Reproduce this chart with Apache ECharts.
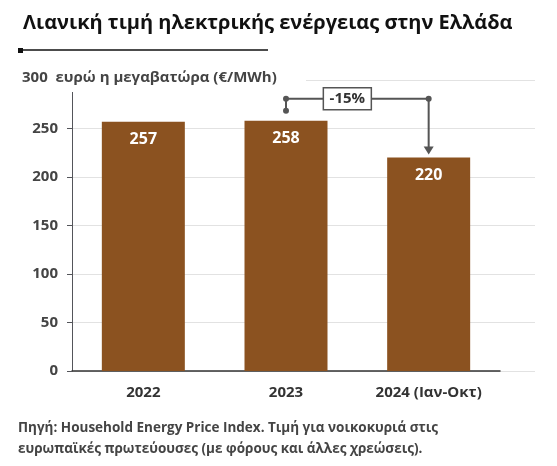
<!DOCTYPE html>
<html><head><meta charset="utf-8">
<script src="https://cdn.jsdelivr.net/npm/echarts@6/dist/echarts.min.js"></script>
<style>html,body{margin:0;background:#fff}#c{width:557px;height:466px}</style>
</head><body><div id="c"></div>
<script>
var categories = ['2022', '2023', '2024 (Ιαν-Οκτ)'];
var prices = [257, 258, 220];
var yTicks = [0, 50, 100, 150, 200, 250, 300];
var changeLabel = '-15%';

var chart = echarts.init(document.getElementById('c'));
var font = 'Open Sans';
chart.setOption({
    animation: false,
    textStyle: {fontFamily: font},
    title: {
        text: 'Λιανική τιμή ηλεκτρικής ενέργειας στην Ελλάδα',
        left: 18, top: 8,
        textStyle: {fontSize: 20, fontWeight: 'bold', color: '#111', fontFamily: font}
    },
    grid: [
        {left: 72, right: 57, top: 80, bottom: 95},
        {left: 72, right: 22, top: 80, bottom: 95}
    ],
    xAxis: [
        {gridIndex: 0, type: 'category', data: categories,
         axisLine: {lineStyle: {color: '#333', width: 1.5}}, axisTick: {show: false},
         axisLabel: {color: '#333', fontSize: 15, fontWeight: 'bold', margin: 14}},
        {gridIndex: 1, type: 'value', show: false}
    ],
    yAxis: [
        {gridIndex: 0, type: 'value', min: 0, max: 300, interval: 50,
         splitLine: {show: false},
         axisLabel: {show: false}},
        {gridIndex: 1, type: 'value', min: 0, max: 300, interval: 50,
         splitLine: {lineStyle: {color: '#e2e2e2'}},
         axisLabel: {color: '#444', fontSize: 15, fontWeight: 'bold', margin: 14,
            formatter: function (v) { return (yTicks.indexOf(v) >= 0 && v !== 300) ? String(v) : ''; }}}
    ],
    series: [{
        type: 'bar', xAxisIndex: 0, yAxisIndex: 0, data: prices, barWidth: 83,
        itemStyle: {color: '#8b5220'},
        label: {show: true, position: 'insideTop', distance: 10, color: '#fff',
                fontSize: 16, fontWeight: 'bold'}
    }]
});

var p2 = chart.convertToPixel({xAxisIndex: 0, yAxisIndex: 0}, [1, prices[1]]);
var p3 = chart.convertToPixel({xAxisIndex: 0, yAxisIndex: 0}, [2, prices[2]]);
var yTop = p2[1] - 22;
var midX = (p2[0] + p3[0]) / 2 - 10;
var lc = '#555';
chart.setOption({
    graphic: [
        {type: 'line', shape: {x1: 18, y1: 50, x2: 268, y2: 50}, style: {stroke: '#111', lineWidth: 1.5}},
        {type: 'rect', shape: {x: 18, y: 48, width: 5, height: 5}, style: {fill: '#111'}},
        {type: 'rect', z: 100, shape: {x: 66, y: 70, width: 240, height: 22}, style: {fill: '#fff'}},
        {type: 'text', z: 101, left: 22, top: 70, style: {text: '300  ευρώ η μεγαβατώρα (€/MWh)', fill: '#444',
            font: 'bold 15px "Open Sans"'}},
        {type: 'polyline', shape: {points: [[p2[0], yTop + 12], [p2[0], yTop], [p3[0], yTop], [p3[0], p3[1] - 10]]},
            style: {stroke: lc, lineWidth: 2, fill: null}},
        {type: 'polygon', shape: {points: [[p3[0] - 5, p3[1] - 11], [p3[0] + 5, p3[1] - 11], [p3[0], p3[1] - 3]]},
            style: {fill: lc}},
        {type: 'circle', shape: {cx: p2[0], cy: yTop, r: 3}, style: {fill: lc}},
        {type: 'circle', shape: {cx: p2[0], cy: yTop + 12, r: 3}, style: {fill: lc}},
        {type: 'circle', shape: {cx: p3[0], cy: yTop, r: 3}, style: {fill: lc}},
        {type: 'rect', shape: {x: midX - 24, y: yTop - 11, width: 48, height: 22},
            style: {fill: '#fff', stroke: lc, lineWidth: 1.5}},
        {type: 'text', x: midX, y: yTop, style: {text: changeLabel, fill: '#333', align: 'center',
            verticalAlign: 'middle', font: 'bold 15px "Open Sans"'}},
        {type: 'text', left: 18, top: 418, style: {
            text: 'Πηγή: Household Energy Price Index. Τιμή για νοικοκυριά στις\nευρωπαϊκές πρωτεύουσες (με φόρους και άλλες χρεώσεις).',
            fill: '#444', font: 'bold 13.5px "Open Sans"', lineHeight: 21}}
    ]
});
</script></body></html>
